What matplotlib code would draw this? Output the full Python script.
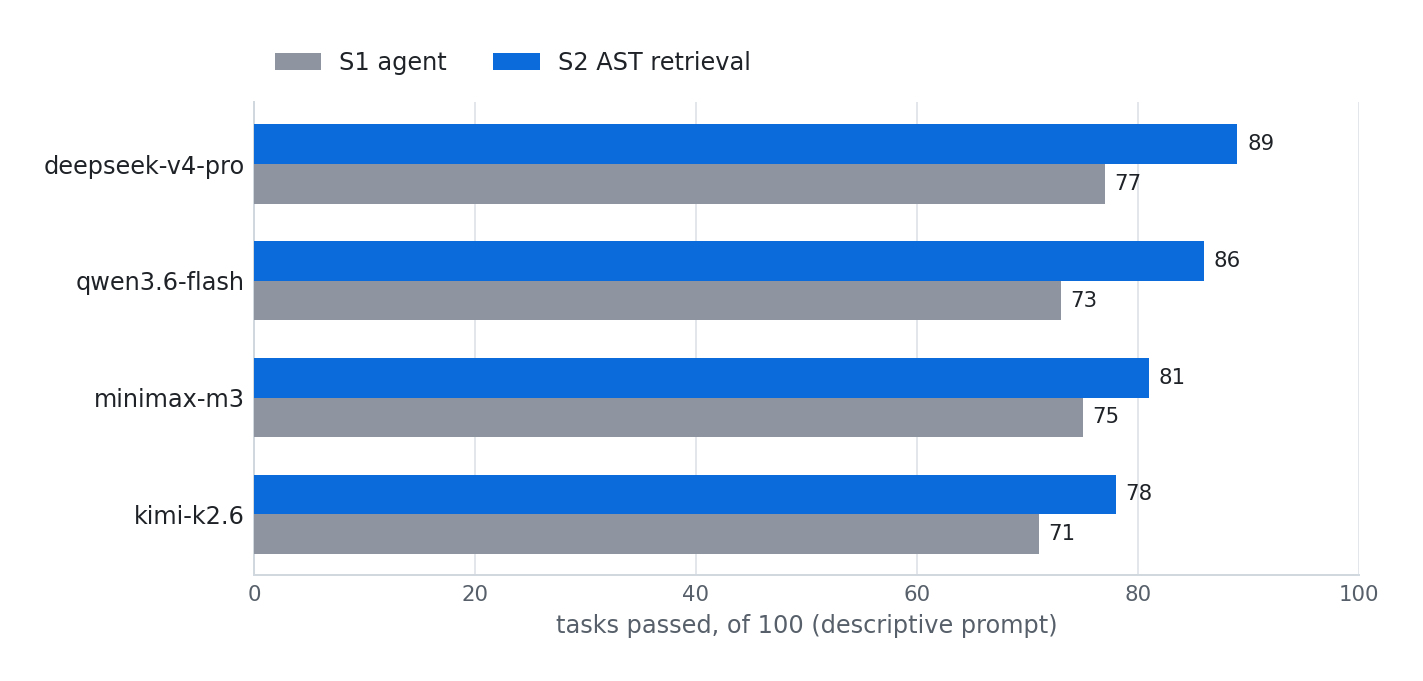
import numpy as np
import matplotlib.pyplot as plt

models = ["deepseek-v4-pro", "qwen3.6-flash", "minimax-m3", "kimi-k2.6"]
s1_agent = [77, 73, 75, 71]
s2_ast = [89, 86, 81, 78]

BLUE = "#0b6bdb"
GRAY = "#8e95a0"
TEXT = "#1f2328"
MUTED = "#57606a"
LINE = "#d0d7de"

plt.rcParams["font.family"] = ["DejaVu Sans"]

fig = plt.figure(figsize=(14.23, 6.81), dpi=100)
ax = fig.add_axes([0.1785, 0.1557, 0.7765, 0.6943])

y = np.arange(len(models))[::-1]
h = 0.34
b1 = ax.barh(y - h / 2, s1_agent, height=h, color=GRAY, label="S1 agent", zorder=3)
b2 = ax.barh(y + h / 2, s2_ast, height=h, color=BLUE, label="S2 AST retrieval", zorder=3)

for bars in (b1, b2):
    for rect in bars:
        w = rect.get_width()
        ax.annotate(f"{w:.0f}", (w, rect.get_y() + rect.get_height() / 2),
                    xytext=(7, 0), textcoords="offset points",
                    va="center", ha="left", fontsize=15.3, color=TEXT)

ax.set_xlim(0, 100)
ax.set_ylim(-0.52, 3.53)
ax.set_xticks([0, 20, 40, 60, 80, 100])
ax.set_yticks(y)
ax.set_yticklabels(models, fontsize=17.3, color=TEXT)
ax.tick_params(axis="x", labelsize=15.3, colors=MUTED, length=0, pad=7)
ax.tick_params(axis="y", length=0, pad=6.5)
ax.set_xlabel("tasks passed, of 100 (descriptive prompt)", fontsize=17.3,
              color=MUTED, labelpad=7)

ax.grid(axis="x", color="#e3e6ea", linewidth=1.4, zorder=0)
for s in ("top", "right"):
    ax.spines[s].set_visible(False)
for s in ("left", "bottom"):
    ax.spines[s].set_color(LINE)
    ax.spines[s].set_linewidth(1.4)

ax.legend(loc="lower left", bbox_to_anchor=(-0.001, 1.012), ncol=2, frameon=False,
          fontsize=17.3, handlelength=1.95, handleheight=0.67, columnspacing=1.9,
          handletextpad=0.75, labelcolor=TEXT)

fig.savefig("out.png", dpi=100)
